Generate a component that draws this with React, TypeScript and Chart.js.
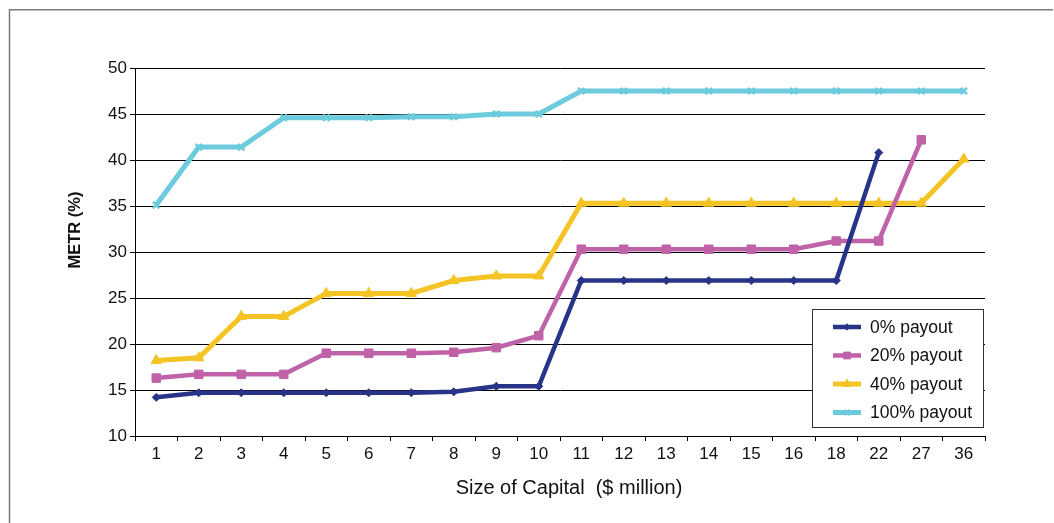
import React, { useEffect, useRef } from "react";
import { Chart, registerables } from "chart.js";
import { drawPoint } from "chart.js/helpers";

Chart.register(...registerables);

// Size of capital ($ million)
const capitalSizes = ["1", "2", "3", "4", "5", "6", "7", "8", "9", "10", "11", "12", "13", "14", "15", "16", "18", "22", "27", "36"];

// Marginal effective tax rate (%) by payout ratio
const payout0 = [14.2, 14.7, 14.7, 14.7, 14.7, 14.7, 14.7, 14.8, 15.4, 15.4, 26.9, 26.9, 26.9, 26.9, 26.9, 26.9, 26.9, 40.8, null, null];
const payout20 = [16.3, 16.7, 16.7, 16.7, 19.0, 19.0, 19.0, 19.1, 19.6, 20.9, 30.3, 30.3, 30.3, 30.3, 30.3, 30.3, 31.2, 31.2, 42.2, null];
const payout40 = [18.2, 18.5, 23.0, 23.0, 25.5, 25.5, 25.5, 26.9, 27.4, 27.4, 35.3, 35.3, 35.3, 35.3, 35.3, 35.3, 35.3, 35.3, 35.3, 40.1];
const payout100 = [35.1, 41.4, 41.4, 44.6, 44.6, 44.6, 44.7, 44.7, 45.0, 45.0, 47.5, 47.5, 47.5, 47.5, 47.5, 47.5, 47.5, 47.5, 47.5, 47.5];

const seriesLabels = ["0% payout", "20% payout", "40% payout", "100% payout"];
const yTicks = [10, 15, 20, 25, 30, 35, 40, 45, 50];

const FONT = "'Liberation Sans', Arial, Helvetica, sans-serif";

const decorPlugin = {
  id: "decor",
  beforeDraw(chart: any) {
    const ctx = chart.ctx;
    ctx.save();
    ctx.fillStyle = "#ffffff";
    ctx.fillRect(0, 0, chart.width, chart.height);
    // outer frame (top and left edges)
    ctx.strokeStyle = "#7a7a7a";
    ctx.lineWidth = 1.5;
    ctx.beginPath();
    ctx.moveTo(9.5, chart.height);
    ctx.lineTo(9.5, 9.75);
    ctx.lineTo(1053, 9.75);
    ctx.stroke();
    ctx.restore();
  },
  afterDraw(chart: any) {
    const ctx = chart.ctx;
    ctx.save();
    // axis titles
    ctx.fillStyle = "#111";
    ctx.textAlign = "center";
    ctx.textBaseline = "middle";
    ctx.font = `20px ${FONT}`;
    ctx.fillText("Size of Capital  ($ million)", 569, 488);
    ctx.save();
    ctx.translate(75, 230);
    ctx.rotate(-Math.PI / 2);
    ctx.font = `bold 16.5px ${FONT}`;
    ctx.fillText("METR (%)", 0, 0);
    ctx.restore();

    // legend box
    const bx = 812.5, by = 309.5, bw = 171, bh = 118;
    ctx.fillStyle = "#ffffff";
    ctx.fillRect(bx, by, bw, bh);
    ctx.strokeStyle = "#333";
    ctx.lineWidth = 1;
    ctx.strokeRect(bx, by, bw, bh);
    const rows = [327, 355.5, 384, 412.5];
    chart.data.datasets.forEach((ds: any, i: number) => {
      const y = rows[i];
      ctx.strokeStyle = ds.borderColor;
      ctx.lineWidth = ds.borderWidth;
      ctx.beginPath();
      ctx.moveTo(833, y);
      ctx.lineTo(861, y);
      ctx.stroke();
      ctx.fillStyle = ds.pointBackgroundColor;
      ctx.strokeStyle = ds.pointBorderColor;
      ctx.lineWidth = ds.pointBorderWidth;
      drawPoint(ctx, { pointStyle: ds.pointStyle, radius: ds.pointRadius * 0.8, rotation: 0, borderWidth: ds.pointBorderWidth }, 847, y);
      ctx.fillStyle = "#111";
      ctx.textAlign = "left";
      ctx.font = `17.5px ${FONT}`;
      ctx.fillText(ds.label, 870, y + 1);
    });
    ctx.restore();
  },
};

export default function App() {
  const canvasRef = useRef<HTMLCanvasElement | null>(null);

  useEffect(() => {
    if (!canvasRef.current) return;
    const mk = (label: string, data: (number | null)[], color: string, style: string, radius: number, width: number) => ({
      label,
      data,
      borderColor: color,
      backgroundColor: color,
      pointBackgroundColor: color,
      pointBorderColor: color,
      pointBorderWidth: style === "crossRot" ? 2.5 : 1,
      pointStyle: style,
      pointRadius: radius,
      borderWidth: width,
      tension: 0,
      spanGaps: false,
    });
    const chart = new Chart(canvasRef.current, {
      type: "line",
      data: {
        labels: capitalSizes,
        datasets: [
          mk(seriesLabels[0], payout0, "#283488", "rectRot", 4, 4.5),
          mk(seriesLabels[1], payout20, "#c062a8", "rect", 6, 4.5),
          mk(seriesLabels[2], payout40, "#f3c423", "triangle", 6, 5),
          mk(seriesLabels[3], payout100, "#6ccbdc", "crossRot", 4.5, 5),
        ] as any,
      },
      options: {
        animation: false,
        responsive: false,
        maintainAspectRatio: false,
        layout: { padding: { top: 68, right: 69, bottom: 0, left: 0 } },
        plugins: {
          legend: { display: false },
          tooltip: { enabled: false },
          title: { display: false },
        },
        scales: {
          x: {
            type: "category",
            offset: true,
            afterFit(scale: any) {
              scale.height = 87;
            },
            grid: {
              display: true,
              offset: true,
              drawOnChartArea: false,
              drawTicks: true,
              tickLength: 5,
              color: "#000",
              lineWidth: 1,
            },
            border: { display: true, color: "#000", width: 1 },
            ticks: {
              color: "#111",
              font: { family: FONT, size: 17 },
              padding: 3,
              maxRotation: 0,
              autoSkip: false,
            },
          },
          y: {
            min: 10,
            max: 50,
            afterFit(scale: any) {
              scale.width = 135;
            },
            afterBuildTicks(scale: any) {
              scale.ticks = yTicks.map((v) => ({ value: v }));
            },
            grid: {
              color: "#000",
              lineWidth: 1,
              drawTicks: true,
              tickLength: 5,
            },
            border: { display: true, color: "#000", width: 1 },
            ticks: {
              color: "#111",
              font: { family: FONT, size: 17 },
              padding: 3,
            },
          },
        },
      } as any,
      plugins: [decorPlugin],
    });
    return () => chart.destroy();
  }, []);

  return (
    <div style={{ position: "fixed", left: 0, top: 0, width: 1054, height: 523, background: "#fff" }}>
      <canvas ref={canvasRef} width={1054} height={523} style={{ display: "block", width: 1054, height: 523 }} />
    </div>
  );
}
